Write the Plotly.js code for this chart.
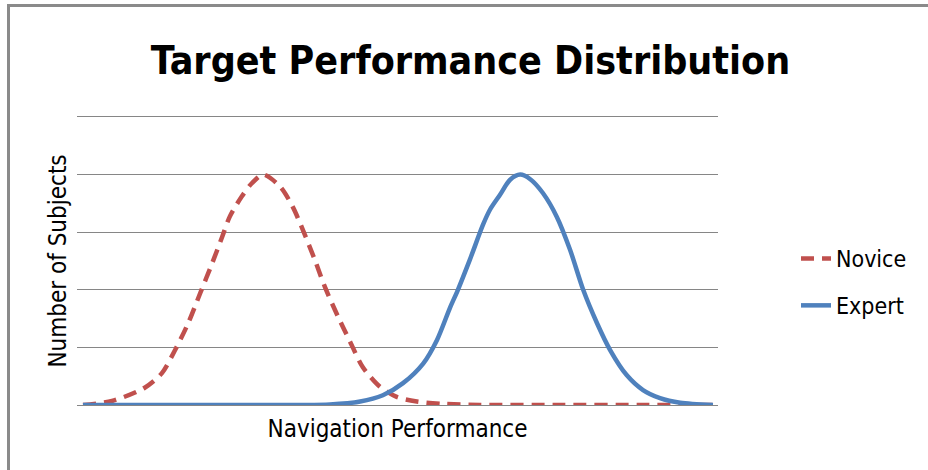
<!DOCTYPE html>
<html>
<head>
<meta charset="utf-8">
<script src="https://cdn.plot.ly/plotly-3.0.1.min.js"></script>
<style>
  html, body { margin: 0; padding: 0; background: #fff; }
  #wrap { position: relative; width: 928px; height: 470px; overflow: hidden; }
  #chart { position: absolute; left: 0; top: 0; width: 928px; height: 470px; }
  #frame { position: absolute; left: 7px; top: 4px; width: 940px; height: 480px;
           border-left: 3px solid #8a8a8a; border-top: 3px solid #8a8a8a; pointer-events: none; }
</style>
</head>
<body>
<div id="wrap">
  <div id="chart"></div>
  <div id="frame"></div>
</div>
<script>
// Navigation performance (arbitrary units, 0-100) and number of subjects
const noviceX = [0, 4.6, 9.8, 12.5, 14.6, 16.7, 18.6, 20.5, 22.1, 23.3, 25.2, 26.8, 28.6,
                 31.3, 33.3, 34.9, 36.8, 38.4, 40.5, 42.4, 44.4, 47.1, 49.8, 53.0, 57.1, 63.0, 75.7, 88.4, 100];
const noviceY = [0, 0.07, 0.30, 0.55, 0.95, 1.42, 1.94, 2.46, 2.92, 3.27, 3.62, 3.85, 4.00,
                 3.79, 3.44, 3.04, 2.52, 2.05, 1.53, 1.10, 0.66, 0.32, 0.14, 0.06, 0.02, 0, 0, 0, 0];

const expertX = [0, 18.6, 39.2, 44.0, 47.6, 50.8, 54.0, 56.2, 58.3, 59.4, 61.4, 63.5, 64.6, 66.2,
                 67.8, 69.4, 71.0, 73.0, 75.2, 77.3, 79.4, 81.6, 83.7, 86.3, 88.9, 91.6, 94.8, 100];
const expertY = [0, 0, 0.01, 0.06, 0.17, 0.38, 0.72, 1.13, 1.70, 1.97, 2.52, 3.13, 3.39, 3.65,
                 3.91, 4.00, 3.92, 3.68, 3.27, 2.70, 2.00, 1.42, 0.95, 0.52, 0.26, 0.12, 0.04, 0];

const seriesNames = ["Novice", "Expert"];
const titleText = "Target Performance Distribution";
const xTitle = "Navigation Performance";
const yTitle = "Number of Subjects";

const FONT = "'Liberation Sans Narrow', 'DejaVu Sans Condensed', 'Liberation Sans', sans-serif";

const traces = [
  {
    x: noviceX, y: noviceY, name: seriesNames[0], type: "scatter", mode: "lines",
    line: { color: "#C0504D", width: 4.5, dash: "13px,8px", shape: "spline", smoothing: 0.8 },
    legendgroup: "a"
  },
  {
    x: expertX, y: expertY, name: seriesNames[1], type: "scatter", mode: "lines",
    line: { color: "#4F81BD", width: 4.5, shape: "spline", smoothing: 0.8 },
    legendgroup: "b"
  }
];

const layout = {
  width: 928, height: 470,
  margin: { l: 77, r: 210, t: 117, b: 65 },
  paper_bgcolor: "#ffffff", plot_bgcolor: "#ffffff",
  font: { family: FONT, color: "#000000", size: 20 },
  title: {
    text: "<b>" + titleText + "</b>",
    font: { family: FONT, size: 39, color: "#000000" },
    x: 0.507, xref: "container", xanchor: "center",
    y: 0.872, yref: "container", yanchor: "middle"
  },
  xaxis: {
    range: [-0.95, 100.8], showgrid: false, zeroline: false,
    showticklabels: false, ticks: "",
    showline: true, mirror: true, linecolor: "#868686", linewidth: 1,
    title: { text: xTitle, font: { family: FONT, size: 24, color: "#000" }, standoff: 15 }
  },
  yaxis: {
    range: [0, 5], dtick: 1, tick0: 0, showgrid: true, gridcolor: "#868686", gridwidth: 1,
    zeroline: false, showticklabels: false, ticks: "", showline: false,
    title: { text: yTitle, font: { family: FONT, size: 24, color: "#000" }, standoff: 2 }
  },
  showlegend: true,
  legend: {
    x: 0, xref: "container", y: 0.40, yref: "container", yanchor: "middle", xanchor: "left",
    font: { family: FONT, size: 23, color: "#000" },
    traceorder: "grouped", tracegroupgap: 14, bgcolor: "rgba(0,0,0,0)"
  }
};
layout.legend.x = 796 / 928;

Plotly.newPlot("chart", traces, layout, { displayModeBar: false, staticPlot: true });
</script>
</body>
</html>
